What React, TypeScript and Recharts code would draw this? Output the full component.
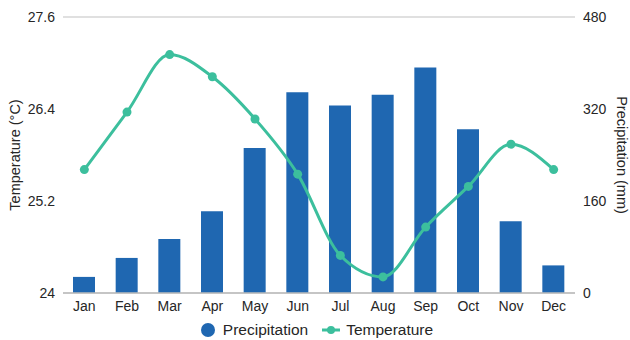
import React from "react";
import {
  ComposedChart,
  Bar,
  Line,
  XAxis,
  YAxis,
  CartesianGrid,
  Legend,
} from "recharts";

const months = ["Jan", "Feb", "Mar", "Apr", "May", "Jun", "Jul", "Aug", "Sep", "Oct", "Nov", "Dec"];
const precipitation = [28, 61, 94, 142, 252, 349, 326, 345, 392, 285, 125, 48];
const temperature = [25.61, 26.36, 27.11, 26.82, 26.27, 25.55, 24.49, 24.21, 24.86, 25.39, 25.94, 25.61];
const tempTicks = [24, 25.2, 26.4, 27.6];
const precipTicks = [0, 160, 320, 480];

const data = months.map((m, i) => ({
  month: m,
  Precipitation: precipitation[i],
  Temperature: temperature[i],
}));

const font = "'Liberation Sans', Arial, Helvetica, sans-serif";
const textColor = "#262626";
const barColor = "#1f67b1";
const lineColor = "#3cbf9d";
const tickStyle = { fill: textColor, fontSize: 14, fontFamily: font };

const AxisTitle = ({ viewBox, value, side }: any) => {
  const cy = viewBox.y + viewBox.height / 2;
  const x = side === "left" ? 20 : 617;
  const angle = side === "left" ? -90 : 90;
  return (
    <text
      x={x}
      y={cy}
      transform={`rotate(${angle}, ${x}, ${cy})`}
      textAnchor="middle"
      fill={textColor}
      fontSize={14.5}
      fontFamily={font}
    >
      {value}
    </text>
  );
};

const LegendContent = () => (
  <div
    style={{
      display: "flex",
      justifyContent: "center",
      alignItems: "center",
      height: 21,
      fontSize: 15.5,
      fontFamily: font,
      color: textColor,
      marginLeft: 4,
    }}
  >
    <svg width={14} height={14} style={{ marginRight: 8 }}>
      <circle cx={7} cy={7} r={7} fill={barColor} />
    </svg>
    <span style={{ marginRight: 14 }}>Precipitation</span>
    <svg width={18} height={10} style={{ marginRight: 6 }}>
      <line x1={0} y1={5} x2={18} y2={5} stroke={lineColor} strokeWidth={3} />
      <circle cx={9} cy={5} r={4} fill={lineColor} />
    </svg>
    <span>Temperature</span>
  </div>
);

export default function App() {
  return (
    <div style={{ position: "fixed", left: 0, top: 0, width: 630, height: 340, background: "#fff" }}>
      <ComposedChart
        width={630}
        height={340}
        data={data}
        margin={{ top: 17, right: 0, bottom: 0, left: 0 }}
        style={{ fontFamily: font }}
      >
        <CartesianGrid vertical={false} stroke="#d6d6d6" strokeWidth={1.5} />
        <XAxis
          dataKey="month"
          tick={tickStyle}
          tickLine={false}
          axisLine={{ stroke: "#bdbdbd", strokeWidth: 1.5 }}
          height={26}
          tickMargin={2}
          interval={0}
        />
        <YAxis
          yAxisId="t"
          orientation="left"
          domain={[24, 27.6]}
          ticks={tempTicks}
          tick={tickStyle}
          tickLine={false}
          axisLine={false}
          width={63}
          label={<AxisTitle value="Temperature (°C)" side="left" />}
        />
        <YAxis
          yAxisId="p"
          orientation="right"
          domain={[0, 480]}
          ticks={precipTicks}
          tick={tickStyle}
          tickLine={false}
          axisLine={false}
          width={55}
          label={<AxisTitle value="Precipitation (mm)" side="right" />}
        />
        <Legend verticalAlign="bottom" height={21} content={<LegendContent />} />
        <Bar
          yAxisId="p"
          dataKey="Precipitation"
          fill={barColor}
          barSize={22}
          isAnimationActive={false}
        />
        <Line
          yAxisId="t"
          type="monotone"
          dataKey="Temperature"
          stroke={lineColor}
          strokeWidth={3}
          dot={{ r: 4.5, fill: lineColor, stroke: lineColor, strokeWidth: 0 }}
          activeDot={false}
          isAnimationActive={false}
        />
      </ComposedChart>
    </div>
  );
}
